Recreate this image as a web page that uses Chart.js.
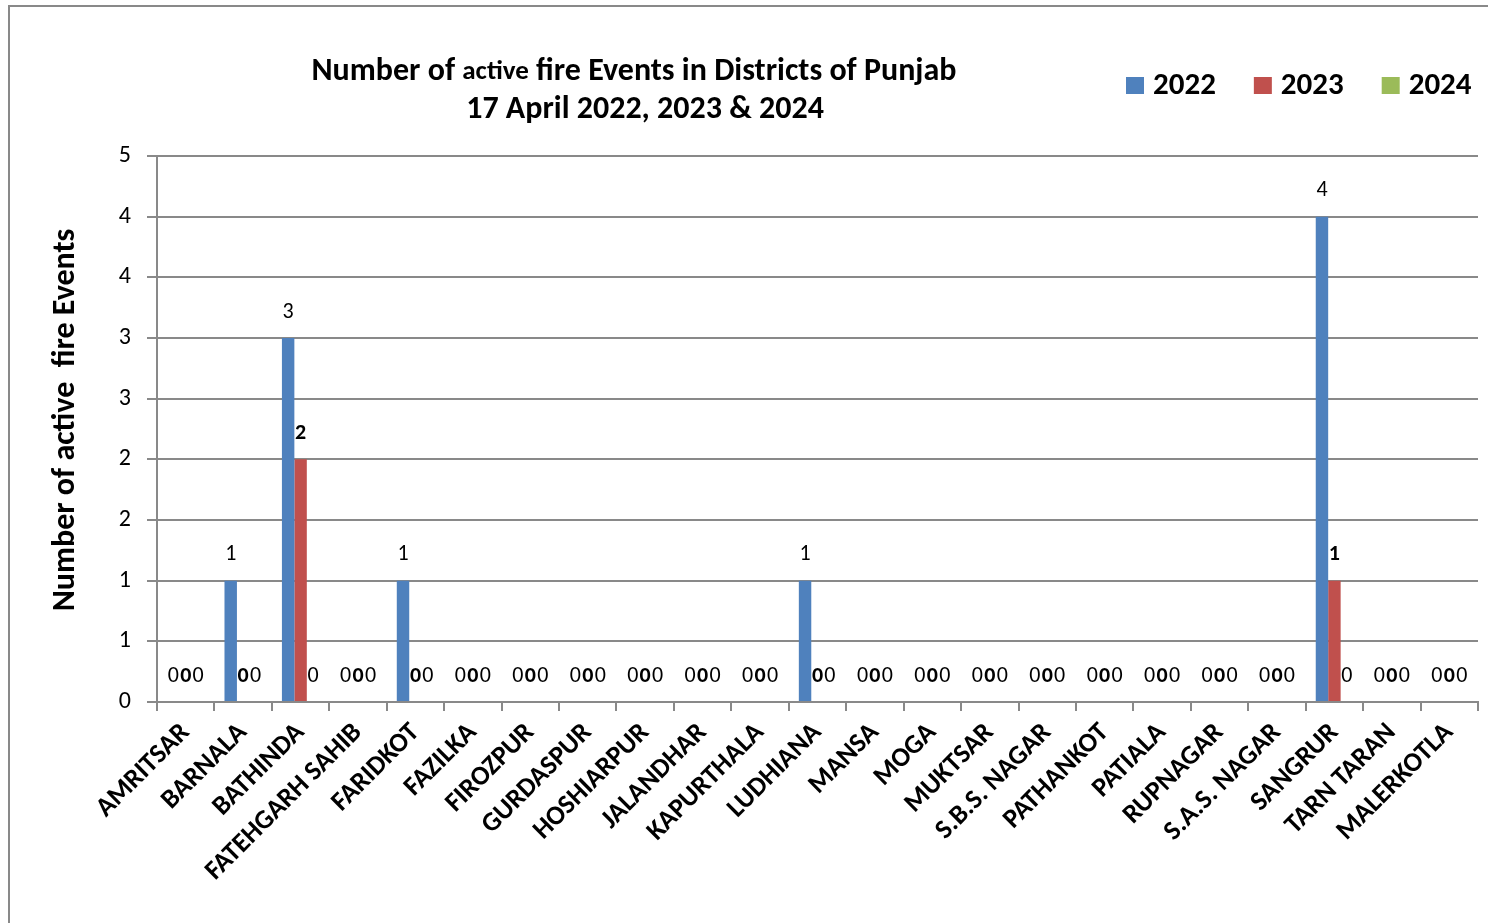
<!DOCTYPE html>
<html>
<head>
<meta charset="utf-8">
<script src="https://cdn.jsdelivr.net/npm/chart.js@4/dist/chart.umd.min.js"></script>
<style>
  body { margin: 0; background: #fff; }
  #wrap { width: 1488px; height: 923px; position: relative; }
</style>
</head>
<body>
<div id="wrap"><canvas id="fireChart"></canvas></div>
<script>
// datos
const districts = ['AMRITSAR', 'BARNALA', 'BATHINDA', 'FATEHGARH SAHIB', 'FARIDKOT', 'FAZILKA',
  'FIROZPUR', 'GURDASPUR', 'HOSHIARPUR', 'JALANDHAR', 'KAPURTHALA', 'LUDHIANA', 'MANSA', 'MOGA',
  'MUKTSAR', 'S.B.S. NAGAR', 'PATHANKOT', 'PATIALA', 'RUPNAGAR', 'S.A.S. NAGAR', 'SANGRUR',
  'TARN TARAN', 'MALERKOTLA'];
const years = ['2022', '2023', '2024'];
const fires2022 = [0, 1, 3, 0, 1, 0, 0, 0, 0, 0, 0, 1, 0, 0, 0, 0, 0, 0, 0, 0, 4, 0, 0];
const fires2023 = [0, 0, 2, 0, 0, 0, 0, 0, 0, 0, 0, 0, 0, 0, 0, 0, 0, 0, 0, 0, 1, 0, 0];
const fires2024 = [0, 0, 0, 0, 0, 0, 0, 0, 0, 0, 0, 0, 0, 0, 0, 0, 0, 0, 0, 0, 0, 0, 0];
const yTickLabels = ['0', '1', '1', '2', '2', '3', '3', '4', '4', '5'];

const colores = ['#4F81BD', '#C0504D', '#9BBB59'];
const FONT = 'Carlito, Lato, "Open Sans", sans-serif';
const GRIS = '#898989';

// marco, titulos, leyenda y etiquetas de valores
const extras = {
  id: 'extras',
  beforeDraw(chart) {
    const ctx = chart.ctx;
    ctx.save();
    ctx.strokeStyle = GRIS;
    ctx.lineWidth = 2;
    ctx.strokeRect(9, 6, 1600, 1000);
    ctx.restore();
  },
  afterDatasetsDraw(chart) {
    const ctx = chart.ctx;
    ctx.save();
    ctx.fillStyle = '#000';
    ctx.textAlign = 'center';
    ctx.textBaseline = 'middle';
    chart.data.datasets.forEach((ds, i) => {
      const meta = chart.getDatasetMeta(i);
      ctx.font = (i === 1 ? 'bold ' : '') + '22px ' + FONT;
      meta.data.forEach((bar, j) => {
        ctx.fillText(String(ds.data[j]), bar.x, bar.y - 26);
      });
    });
    ctx.restore();
  },
  afterDraw(chart) {
    const ctx = chart.ctx;
    ctx.save();
    ctx.fillStyle = '#000';
    ctx.textBaseline = 'middle';

    // titulo, con "active" algo mas pequeno
    const partes = [['Number of ', 32], ['active', 27], [' fire Events in Districts of Punjab', 32]];
    let total = 0;
    partes.forEach(p => { ctx.font = 'bold ' + p[1] + 'px ' + FONT; total += ctx.measureText(p[0]).width; });
    let tx = 634 - total / 2;
    ctx.textAlign = 'left';
    partes.forEach(p => {
      ctx.font = 'bold ' + p[1] + 'px ' + FONT;
      ctx.fillText(p[0], tx, 72);
      tx += ctx.measureText(p[0]).width;
    });
    ctx.textAlign = 'center';
    ctx.font = 'bold 32px ' + FONT;
    ctx.fillText('17 April 2022, 2023 & 2024', 645, 110);

    // titulo del eje y
    ctx.save();
    ctx.translate(66, 420);
    ctx.rotate(-Math.PI / 2);
    ctx.font = 'bold 32px ' + FONT;
    ctx.fillText('Number of active  fire Events', 0, 0);
    ctx.restore();

    // leyenda
    ctx.font = 'bold 31px ' + FONT;
    ctx.textAlign = 'left';
    let x = 1126;
    chart.data.datasets.forEach(ds => {
      ctx.fillStyle = ds.backgroundColor;
      ctx.fillRect(x, 77, 18, 17);
      ctx.fillStyle = '#000';
      ctx.fillText(ds.label, x + 27, 86);
      x += 27 + ctx.measureText(ds.label).width + 38;
    });
    ctx.restore();
  }
};

const ctx = document.getElementById('fireChart').getContext('2d');
const chart = new Chart(ctx, {
  type: 'bar',
  data: {
    labels: districts,
    datasets: [
      { label: years[0], data: fires2022, backgroundColor: colores[0] },
      { label: years[1], data: fires2023, backgroundColor: colores[1] },
      { label: years[2], data: fires2024, backgroundColor: colores[2] }
    ]
  },
  options: {
    responsive: true,
    maintainAspectRatio: false,
    animation: false,
    devicePixelRatio: 1,
    layout: { padding: { top: 156, right: 10, bottom: 0, left: 0 } },
    datasets: { bar: { categoryPercentage: 0.65, barPercentage: 1 } },
    plugins: {
      legend: { display: false },
      title: { display: false },
      tooltip: { enabled: false }
    },
    scales: {
      x: {
        afterFit: s => { s.height = 221; },
        grid: { offset: true, drawOnChartArea: false, drawTicks: true, tickLength: 9, color: GRIS, lineWidth: 2 },
        border: { display: true, color: GRIS, width: 2 },
        ticks: {
          autoSkip: false, maxRotation: 45, minRotation: 45, padding: 6,
          color: '#000', font: { family: FONT, size: 27, weight: 'bold' }
        }
      },
      y: {
        min: 0,
        max: 4.5,
        afterFit: s => { s.width = 157; },
        grid: { drawTicks: true, tickLength: 10, color: GRIS, lineWidth: 2 },
        border: { display: true, color: GRIS, width: 2 },
        ticks: {
          stepSize: 0.5, padding: 16, color: '#000',
          font: { family: FONT, size: 24 },
          callback: (v, i) => yTickLabels[i]
        }
      }
    }
  },
  plugins: [extras]
});
</script>
</body>
</html>
